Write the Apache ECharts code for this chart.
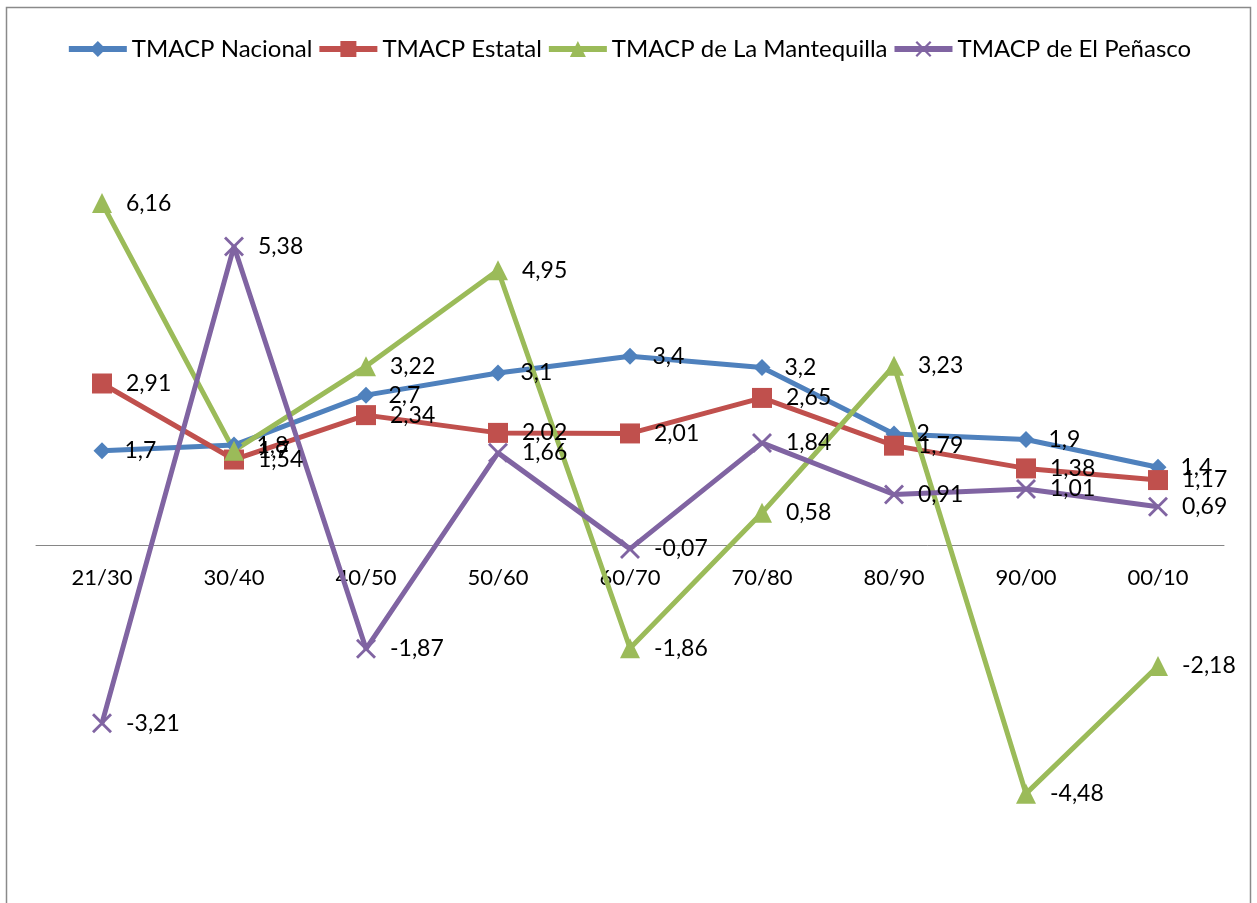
<!DOCTYPE html>
<html>
<head>
<meta charset="utf-8">
<script src="https://cdn.jsdelivr.net/npm/echarts@6/dist/echarts.min.js"></script>
<style>
  html, body { margin: 0; padding: 0; background: #fff; }
  #chart { width: 1257px; height: 903px; }
</style>
</head>
<body>
<div id="chart"></div>
<script>
// Decades compared
const categories = ['21/30', '30/40', '40/50', '50/60', '60/70', '70/80', '80/90', '90/00', '00/10'];

// Tasa media anual de crecimiento poblacional (%)
const nacional = [1.7, 1.8, 2.7, 3.1, 3.4, 3.2, 2, 1.9, 1.4];
const estatal = [2.91, 1.54, 2.34, 2.02, 2.01, 2.65, 1.79, 1.38, 1.17];
const mantequilla = [6.16, 1.7, 3.22, 4.95, -1.86, 0.58, 3.23, -4.48, -2.18];
const penasco = [-3.21, 5.38, -1.87, 1.66, -0.07, 1.84, 0.91, 1.01, 0.69];

const seriesNames = ['TMACP Nacional', 'TMACP Estatal', 'TMACP de La Mantequilla', 'TMACP de El Peñasco'];

const FONT = 'Lato, "Open Sans", sans-serif';
const crossPath = 'path://M0,1L1,0L10,9L9,10Z M9,0L10,1L1,10L0,9Z';

const Y_MIN = -6, Y_MAX = 8;
const GRID_TOP = 101, GRID_BOTTOM = 25;
const CHART_H = 903;
// shift the category axis up so that it sits on the zero line, labels included
const plotH = CHART_H - GRID_TOP - GRID_BOTTOM;
const zeroOffset = -plotH * (0 - Y_MIN) / (Y_MAX - Y_MIN);

function labelCfg() {
  return {
    show: true,
    position: 'right',
    distance: 14,
    color: '#000',
    fontFamily: FONT,
    fontSize: 23,
    formatter: p => String(p.value).replace('.', ',')
  };
}

function makeSeries(name, data, color, symbol, size) {
  return {
    name: name,
    type: 'line',
    data: data,
    symbol: symbol,
    symbolSize: size,
    showAllSymbol: true,
    lineStyle: { color: color, width: 5 },
    itemStyle: { color: color },
    label: labelCfg(),
    emphasis: { disabled: true },
    animation: false
  };
}

const chart = echarts.init(document.getElementById('chart'), null, { renderer: 'canvas' });
chart.setOption({
  backgroundColor: '#fff',
  animation: false,
  graphic: [{
    type: 'rect',
    shape: { x: 6.5, y: 7.5, width: 1244, height: 1000 },
    style: { fill: 'none', stroke: '#8a8a8a', lineWidth: 1.5 },
    silent: true
  }],
  legend: {
    top: 32,
    left: 'center',
    itemWidth: 58,
    itemHeight: 20,
    itemGap: 4,
    lineStyle: { width: 6 },
    textStyle: { fontFamily: FONT, fontSize: 24, color: '#000' },
    data: seriesNames
  },
  grid: {
    left: 36, right: 33, top: GRID_TOP, bottom: GRID_BOTTOM,
    containLabel: false,
    outerBoundsMode: 'none'
  },
  xAxis: {
    type: 'category',
    data: categories,
    boundaryGap: true,
    position: 'bottom',
    offset: zeroOffset,
    axisLine: { onZero: false, lineStyle: { color: '#868686', width: 1 } },
    axisTick: { show: false },
    axisLabel: { fontFamily: FONT, fontSize: 22, color: '#000', margin: 22 },
    splitLine: { show: false }
  },
  yAxis: {
    type: 'value',
    min: Y_MIN,
    max: Y_MAX,
    interval: 2,
    show: false,
    splitLine: { show: false }
  },
  series: [
    makeSeries(seriesNames[0], nacional, '#4F81BD', 'diamond', 17),
    makeSeries(seriesNames[1], estatal, '#C0504D', 'rect', 20),
    makeSeries(seriesNames[2], mantequilla, '#9BBB59', 'triangle', 20),
    makeSeries(seriesNames[3], penasco, '#8064A2', crossPath, 20)
  ]
});
</script>
</body>
</html>
